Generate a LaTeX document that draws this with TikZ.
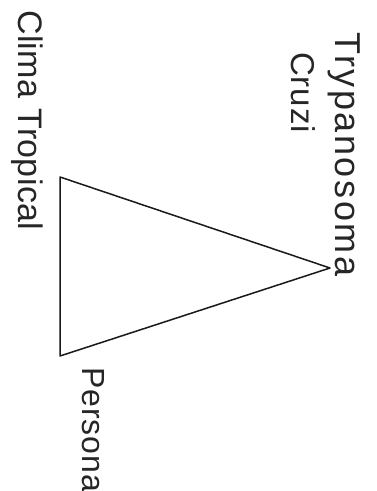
\documentclass[tikz,border=0pt]{standalone}
\usepackage{fontspec}
\setmainfont{Liberation Sans}
\tikzset{
  lbl/.style={rotate=-90, anchor=base west, inner sep=0pt, text=black!85},
  edge/.style={draw=black!90, line width=1.5pt, line join=round}
}
\begin{document}
\begin{tikzpicture}[x=1pt,y=-1pt]
\useasboundingbox[fill=white] (0,0) rectangle (376,491);
\coordinate (CT) at (60,177);
\coordinate (PE) at (60,356);
\coordinate (TC) at (330,268);
\draw[edge] (CT) -- (TC) -- (PE) -- cycle;
\node[lbl, font=\fontsize{36}{40}\selectfont\addfontfeature{LetterSpace=7}] (tryp) at (335,32) {Trypanosoma};
\node[lbl, font=\fontsize{33}{36}\selectfont\addfontfeature{LetterSpace=3}] (cruzi) at (291,52) {Cruzi};
\node[lbl, font=\fontsize{34}{38}\selectfont\addfontfeature{LetterSpace=1}] (clima) at (18,10) {Clima Tropical};
\node[lbl, font=\fontsize{32}{36}\selectfont\addfontfeature{LetterSpace=3}] (pers) at (82,367) {Persona};
\end{tikzpicture}
\end{document}
